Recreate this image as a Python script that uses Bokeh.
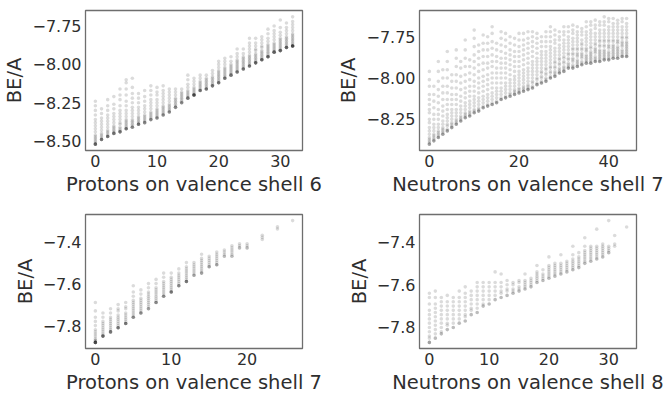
from bokeh.plotting import figure
from bokeh.layouts import gridplot
from bokeh.models import Range1d, FixedTicker, CustomJSTickFormatter, ColumnDataSource
from bokeh.embed import file_html
from bokeh.resources import INLINE

# ---------------- data ----------------
# Panel 1: protons on valence shell 6
p6_x = list(range(0, 33))
p6_y = [
    [-8.24, -8.27, -8.30, -8.33, -8.36, -8.38, -8.40, -8.42, -8.44, -8.46, -8.47, -8.48, -8.49, -8.50, -8.51, -8.52, -8.52],
    [-8.29, -8.32, -8.35, -8.37, -8.39, -8.41, -8.43, -8.45, -8.46, -8.47, -8.48, -8.49, -8.49],
    [-8.23, -8.27, -8.30, -8.33, -8.35, -8.37, -8.39, -8.41, -8.43, -8.44, -8.45, -8.46, -8.47, -8.47],
    [-8.21, -8.26, -8.29, -8.32, -8.34, -8.36, -8.38, -8.40, -8.41, -8.42, -8.43, -8.44, -8.45, -8.45],
    [-8.16, -8.20, -8.23, -8.27, -8.30, -8.32, -8.34, -8.36, -8.38, -8.39, -8.41, -8.42, -8.43, -8.44, -8.44],
    [-8.10, -8.12, -8.16, -8.20, -8.24, -8.27, -8.30, -8.32, -8.34, -8.36, -8.37, -8.38, -8.39, -8.40, -8.41, -8.42, -8.42],
    [-8.09, -8.15, -8.19, -8.22, -8.25, -8.28, -8.30, -8.32, -8.34, -8.36, -8.37, -8.38, -8.39, -8.40, -8.41],
    [-8.19, -8.22, -8.25, -8.28, -8.30, -8.32, -8.34, -8.35, -8.36, -8.37, -8.38, -8.39, -8.39],
    [-8.17, -8.21, -8.24, -8.27, -8.29, -8.31, -8.33, -8.34, -8.35, -8.36, -8.37, -8.38],
    [-8.14, -8.17, -8.20, -8.23, -8.25, -8.27, -8.29, -8.31, -8.32, -8.33, -8.34, -8.35, -8.36],
    [-8.15, -8.18, -8.20, -8.23, -8.25, -8.27, -8.29, -8.30, -8.31, -8.32, -8.33, -8.34, -8.35],
    [-8.14, -8.17, -8.19, -8.21, -8.23, -8.25, -8.27, -8.28, -8.29, -8.30, -8.31, -8.32, -8.33],
    [-8.16, -8.18, -8.20, -8.22, -8.24, -8.26, -8.27, -8.28, -8.29, -8.30, -8.31],
    [-8.16, -8.18, -8.20, -8.22, -8.23, -8.24, -8.25, -8.26, -8.27, -8.28],
    [-8.16, -8.18, -8.19, -8.20, -8.21, -8.22, -8.23, -8.24, -8.25],
    [-8.07, -8.10, -8.13, -8.15, -8.17, -8.18, -8.19, -8.20, -8.21, -8.22],
    [-8.09, -8.11, -8.13, -8.15, -8.16, -8.17, -8.18, -8.19, -8.20, -8.20],
    [-8.07, -8.09, -8.11, -8.12, -8.13, -8.14, -8.15, -8.16, -8.17],
    [-8.07, -8.09, -8.10, -8.11, -8.12, -8.13, -8.14, -8.15, -8.16],
    [-8.04, -8.06, -8.08, -8.09, -8.10, -8.11, -8.12, -8.13, -8.14],
    [-7.98, -8.00, -8.02, -8.04, -8.05, -8.06, -8.07, -8.08, -8.09, -8.10, -8.11, -8.12],
    [-7.96, -7.98, -8.00, -8.02, -8.03, -8.04, -8.05, -8.06, -8.07, -8.08, -8.09],
    [-7.95, -7.98, -8.00, -8.01, -8.02, -8.03, -8.04, -8.05, -8.06, -8.07],
    [-7.90, -7.93, -7.95, -7.97, -7.98, -7.99, -8.00, -8.01, -8.02, -8.03, -8.04, -8.05],
    [-7.90, -7.93, -7.95, -7.96, -7.97, -7.98, -7.99, -8.00, -8.01, -8.02, -8.03],
    [-7.83, -7.86, -7.88, -7.90, -7.92, -7.94, -7.95, -7.96, -7.97, -7.98, -7.99, -8.00, -8.01],
    [-7.83, -7.86, -7.88, -7.90, -7.91, -7.93, -7.94, -7.95, -7.96, -7.97, -7.98, -7.99],
    [-7.82, -7.84, -7.86, -7.88, -7.89, -7.91, -7.92, -7.93, -7.94, -7.95, -7.96, -7.97],
    [-7.77, -7.80, -7.83, -7.85, -7.87, -7.88, -7.89, -7.90, -7.91, -7.92, -7.93, -7.94, -7.95],
    [-7.75, -7.78, -7.80, -7.82, -7.84, -7.86, -7.87, -7.88, -7.89, -7.90, -7.91, -7.92],
    [-7.71, -7.76, -7.79, -7.81, -7.83, -7.84, -7.85, -7.86, -7.87, -7.88, -7.89, -7.90, -7.91],
    [-7.73, -7.76, -7.78, -7.80, -7.82, -7.83, -7.84, -7.85, -7.86, -7.87, -7.88, -7.89],
    [-7.69, -7.72, -7.74, -7.76, -7.78, -7.80, -7.81, -7.82, -7.83, -7.84, -7.85, -7.86, -7.87, -7.88, -7.88],
]
# extra nuclei stacked on the lowest value of each column (darker dots)
p6_stack = [4, 3, 3, 3, 3, 3, 3, 3, 3, 3, 3, 3, 3, 3, 3, 4, 6, 4, 4, 4, 4, 4, 4, 4, 4, 4, 5, 5, 5, 5, 5, 5, 6]

# Panel 2: neutrons on valence shell 7
n7_x = list(range(0, 45))
n7_y = [
    [-7.96, -8.01, -8.05, -8.10, -8.13, -8.16, -8.19, -8.21, -8.25, -8.27, -8.30, -8.32, -8.34, -8.36, -8.37, -8.38, -8.39, -8.40],
    [-8.05, -8.10, -8.14, -8.18, -8.22, -8.25, -8.28, -8.30, -8.32, -8.34, -8.35, -8.36, -8.37, -8.38],
    [-7.90, -7.96, -8.02, -8.07, -8.11, -8.15, -8.19, -8.22, -8.25, -8.28, -8.30, -8.32, -8.33, -8.34, -8.35, -8.36],
    [-7.95, -8.00, -8.05, -8.09, -8.13, -8.17, -8.20, -8.23, -8.26, -8.28, -8.30, -8.31, -8.32, -8.33, -8.34],
    [-7.84, -7.90, -7.95, -8.00, -8.05, -8.09, -8.13, -8.16, -8.19, -8.22, -8.24, -8.26, -8.28, -8.29, -8.31, -8.32],
    [-7.98, -8.02, -8.06, -8.10, -8.13, -8.16, -8.19, -8.21, -8.23, -8.25, -8.27, -8.28, -8.29, -8.30],
    [-7.83, -7.88, -7.93, -7.98, -8.02, -8.06, -8.10, -8.13, -8.16, -8.19, -8.21, -8.23, -8.25, -8.26, -8.27, -8.28],
    [-7.90, -7.94, -7.99, -8.03, -8.07, -8.11, -8.14, -8.17, -8.19, -8.21, -8.23, -8.24, -8.25, -8.26],
    [-7.77, -7.83, -7.88, -7.93, -7.98, -8.02, -8.06, -8.09, -8.12, -8.15, -8.17, -8.19, -8.21, -8.22, -8.23, -8.24],
    [-7.89, -7.93, -7.97, -8.01, -8.05, -8.08, -8.11, -8.14, -8.16, -8.18, -8.20, -8.21, -8.22, -8.23],
    [-7.71, -7.76, -7.81, -7.86, -7.90, -7.94, -7.98, -8.02, -8.05, -8.08, -8.11, -8.13, -8.15, -8.17, -8.19, -8.20, -8.21],
    [-7.80, -7.84, -7.88, -7.92, -7.96, -8.00, -8.03, -8.06, -8.09, -8.12, -8.14, -8.16, -8.18, -8.19, -8.20],
    [-7.74, -7.79, -7.83, -7.87, -7.91, -7.95, -7.99, -8.02, -8.05, -8.08, -8.11, -8.13, -8.15, -8.17, -8.18],
    [-7.75, -7.79, -7.83, -7.87, -7.91, -7.94, -7.98, -8.01, -8.04, -8.07, -8.10, -8.12, -8.14, -8.16, -8.17],
    [-7.69, -7.73, -7.78, -7.82, -7.86, -7.90, -7.93, -7.97, -8.00, -8.03, -8.06, -8.09, -8.11, -8.13, -8.15, -8.16],
    [-7.79, -7.83, -7.87, -7.90, -7.94, -7.97, -8.00, -8.03, -8.06, -8.08, -8.10, -8.12, -8.14, -8.15],
    [-7.72, -7.76, -7.80, -7.84, -7.88, -7.91, -7.94, -7.97, -8.00, -8.03, -8.06, -8.08, -8.10, -8.12, -8.13],
    [-7.73, -7.77, -7.81, -7.85, -7.88, -7.91, -7.94, -7.97, -8.00, -8.03, -8.05, -8.07, -8.09, -8.11, -8.12],
    [-7.75, -7.79, -7.83, -7.86, -7.89, -7.92, -7.95, -7.98, -8.01, -8.03, -8.05, -8.07, -8.09, -8.10, -8.11],
    [-7.76, -7.80, -7.84, -7.87, -7.90, -7.93, -7.96, -7.99, -8.01, -8.03, -8.05, -8.07, -8.08, -8.09, -8.10],
    [-7.73, -7.77, -7.81, -7.84, -7.87, -7.90, -7.93, -7.96, -7.98, -8.00, -8.02, -8.04, -8.06, -8.07, -8.08, -8.09],
    [-7.73, -7.77, -7.80, -7.83, -7.86, -7.89, -7.92, -7.95, -7.97, -7.99, -8.01, -8.03, -8.05, -8.06, -8.07, -8.08],
    [-7.72, -7.76, -7.79, -7.82, -7.85, -7.88, -7.91, -7.94, -7.96, -7.98, -8.00, -8.02, -8.04, -8.05, -8.06, -8.07],
    [-7.72, -7.75, -7.78, -7.81, -7.84, -7.87, -7.90, -7.92, -7.94, -7.96, -7.98, -8.00, -8.02, -8.03, -8.05, -8.06],
    [-7.73, -7.76, -7.79, -7.82, -7.85, -7.88, -7.90, -7.92, -7.94, -7.96, -7.98, -8.00, -8.01, -8.03, -8.04],
    [-7.75, -7.78, -7.81, -7.84, -7.86, -7.88, -7.90, -7.92, -7.94, -7.96, -7.97, -7.99, -8.00, -8.02, -8.03],
    [-7.72, -7.75, -7.78, -7.81, -7.84, -7.86, -7.88, -7.90, -7.92, -7.94, -7.95, -7.97, -7.98, -8.00, -8.01, -8.02],
    [-7.69, -7.72, -7.75, -7.78, -7.81, -7.83, -7.85, -7.87, -7.89, -7.91, -7.93, -7.94, -7.96, -7.97, -7.99, -8.00],
    [-7.71, -7.74, -7.77, -7.79, -7.82, -7.84, -7.86, -7.88, -7.90, -7.91, -7.93, -7.94, -7.96, -7.97, -7.98, -7.99],
    [-7.72, -7.75, -7.77, -7.80, -7.82, -7.84, -7.86, -7.88, -7.89, -7.91, -7.92, -7.94, -7.95, -7.96, -7.97],
    [-7.69, -7.72, -7.74, -7.77, -7.79, -7.81, -7.83, -7.85, -7.87, -7.88, -7.90, -7.91, -7.93, -7.94, -7.95, -7.96],
    [-7.69, -7.72, -7.75, -7.77, -7.79, -7.81, -7.83, -7.85, -7.86, -7.88, -7.89, -7.91, -7.92, -7.93, -7.94],
    [-7.68, -7.71, -7.73, -7.76, -7.78, -7.80, -7.82, -7.83, -7.85, -7.86, -7.88, -7.89, -7.90, -7.92, -7.93, -7.94],
    [-7.69, -7.72, -7.74, -7.76, -7.78, -7.80, -7.82, -7.83, -7.85, -7.86, -7.87, -7.89, -7.90, -7.91, -7.92, -7.93],
    [-7.70, -7.72, -7.74, -7.77, -7.79, -7.80, -7.82, -7.83, -7.85, -7.86, -7.87, -7.88, -7.90, -7.91, -7.92],
    [-7.66, -7.69, -7.72, -7.74, -7.76, -7.78, -7.80, -7.82, -7.83, -7.84, -7.86, -7.87, -7.88, -7.89, -7.90, -7.91],
    [-7.66, -7.68, -7.71, -7.73, -7.75, -7.77, -7.79, -7.81, -7.82, -7.84, -7.85, -7.86, -7.87, -7.88, -7.89, -7.90, -7.91],
    [-7.65, -7.68, -7.70, -7.73, -7.75, -7.77, -7.79, -7.80, -7.82, -7.83, -7.84, -7.85, -7.87, -7.88, -7.89, -7.90],
    [-7.66, -7.68, -7.71, -7.73, -7.75, -7.77, -7.78, -7.80, -7.81, -7.83, -7.84, -7.85, -7.86, -7.87, -7.88, -7.89, -7.90],
    [-7.63, -7.66, -7.68, -7.71, -7.73, -7.75, -7.77, -7.78, -7.80, -7.81, -7.83, -7.84, -7.85, -7.86, -7.87, -7.88, -7.89],
    [-7.64, -7.66, -7.69, -7.71, -7.73, -7.75, -7.77, -7.78, -7.80, -7.81, -7.82, -7.84, -7.85, -7.86, -7.87, -7.88, -7.89],
    [-7.64, -7.67, -7.69, -7.71, -7.73, -7.75, -7.77, -7.78, -7.80, -7.81, -7.82, -7.83, -7.84, -7.85, -7.86, -7.87, -7.88],
    [-7.65, -7.67, -7.69, -7.71, -7.73, -7.75, -7.77, -7.78, -7.79, -7.81, -7.82, -7.83, -7.84, -7.85, -7.86, -7.87, -7.88],
    [-7.64, -7.66, -7.69, -7.71, -7.73, -7.75, -7.76, -7.78, -7.79, -7.80, -7.81, -7.83, -7.84, -7.85, -7.86, -7.87],
    [-7.64, -7.67, -7.69, -7.71, -7.73, -7.75, -7.76, -7.78, -7.79, -7.80, -7.81, -7.82, -7.83, -7.84, -7.85, -7.86, -7.87],
]
n7_stack = [2] * 45

# Panel 3: protons on valence shell 7
p7_x = list(range(0, 21)) + [22, 24, 26]
p7_y = [
    [-7.69, -7.73, -7.76, -7.78, -7.80, -7.82, -7.83, -7.84, -7.85, -7.86, -7.87, -7.87, -7.88, -7.88, -7.88],
    [-7.74, -7.76, -7.78, -7.79, -7.80, -7.81, -7.82, -7.83, -7.84, -7.85, -7.85, -7.85],
    [-7.72, -7.74, -7.76, -7.77, -7.78, -7.79, -7.80, -7.81, -7.82, -7.83, -7.83],
    [-7.70, -7.72, -7.73, -7.75, -7.76, -7.77, -7.78, -7.79, -7.80, -7.81, -7.81],
    [-7.69, -7.71, -7.72, -7.74, -7.75, -7.76, -7.77, -7.78, -7.79, -7.79],
    [-7.61, -7.64, -7.66, -7.68, -7.69, -7.70, -7.71, -7.72, -7.73, -7.74, -7.75, -7.76, -7.76],
    [-7.63, -7.65, -7.67, -7.68, -7.69, -7.70, -7.71, -7.72, -7.73, -7.74, -7.74],
    [-7.60, -7.62, -7.64, -7.65, -7.66, -7.67, -7.68, -7.69, -7.70, -7.71, -7.72],
    [-7.58, -7.60, -7.62, -7.63, -7.64, -7.65, -7.66, -7.67, -7.68, -7.69, -7.69],
    [-7.55, -7.57, -7.59, -7.60, -7.61, -7.62, -7.63, -7.64, -7.65, -7.66, -7.66],
    [-7.55, -7.57, -7.58, -7.59, -7.60, -7.61, -7.62, -7.63, -7.64, -7.64],
    [-7.53, -7.55, -7.56, -7.57, -7.58, -7.59, -7.60, -7.61, -7.61],
    [-7.50, -7.52, -7.53, -7.54, -7.55, -7.56, -7.57, -7.58, -7.59, -7.59],
    [-7.50, -7.51, -7.52, -7.53, -7.54, -7.55, -7.56],
    [-7.46, -7.48, -7.49, -7.50, -7.51, -7.52, -7.53, -7.54, -7.55],
    [-7.47, -7.48, -7.49, -7.50, -7.51, -7.52],
    [-7.45, -7.46, -7.47, -7.48, -7.49, -7.50, -7.51],
    [-7.44, -7.45, -7.46, -7.47],
    [-7.42, -7.43, -7.44, -7.45, -7.46, -7.47],
    [-7.41, -7.42, -7.43],
    [-7.41, -7.42, -7.43],
    [-7.37, -7.38, -7.39],
    [-7.33, -7.34],
    [-7.30],
]
p7_stack = [5, 3, 3, 3, 3, 2, 2, 2, 2, 2, 3, 2, 3, 2, 2, 2, 2, 1, 1, 1, 1, 0, 0, 0]

# Panel 4: neutrons on valence shell 8
n8_x = list(range(0, 32)) + [33]
n8_y = [
    [-7.64, -7.66, -7.69, -7.72, -7.74, -7.76, -7.78, -7.80, -7.82, -7.84, -7.85, -7.87],
    [-7.63, -7.66, -7.69, -7.71, -7.73, -7.75, -7.77, -7.79, -7.81, -7.83, -7.85],
    [-7.66, -7.68, -7.70, -7.72, -7.74, -7.76, -7.78, -7.80, -7.82, -7.83],
    [-7.65, -7.68, -7.70, -7.72, -7.74, -7.76, -7.78, -7.79, -7.81],
    [-7.66, -7.68, -7.70, -7.72, -7.74, -7.76, -7.78, -7.80],
    [-7.63, -7.66, -7.68, -7.70, -7.72, -7.74, -7.76, -7.78],
    [-7.61, -7.64, -7.66, -7.68, -7.70, -7.72, -7.74, -7.75, -7.77],
    [-7.63, -7.65, -7.67, -7.69, -7.71, -7.72, -7.74],
    [-7.59, -7.61, -7.63, -7.65, -7.67, -7.69, -7.71, -7.73],
    [-7.59, -7.61, -7.63, -7.65, -7.67, -7.69, -7.70],
    [-7.59, -7.61, -7.63, -7.65, -7.67, -7.69],
    [-7.54, -7.59, -7.61, -7.63, -7.65, -7.67],
    [-7.55, -7.59, -7.61, -7.63, -7.64, -7.66],
    [-7.58, -7.60, -7.62, -7.63, -7.65],
    [-7.59, -7.60, -7.62, -7.63, -7.64],
    [-7.58, -7.59, -7.61, -7.62, -7.63],
    [-7.55, -7.58, -7.59, -7.60, -7.61, -7.62],
    [-7.57, -7.58, -7.59, -7.60, -7.61],
    [-7.51, -7.54, -7.55, -7.56, -7.57, -7.58, -7.59],
    [-7.53, -7.55, -7.56, -7.57, -7.58],
    [-7.47, -7.51, -7.52, -7.53, -7.54, -7.55, -7.56, -7.57],
    [-7.50, -7.51, -7.52, -7.53, -7.54, -7.55, -7.56],
    [-7.46, -7.50, -7.51, -7.52, -7.53, -7.54, -7.55],
    [-7.49, -7.50, -7.51, -7.52, -7.53, -7.54],
    [-7.42, -7.46, -7.48, -7.49, -7.50, -7.51, -7.52, -7.53],
    [-7.45, -7.47, -7.48, -7.49, -7.50, -7.51, -7.52],
    [-7.38, -7.42, -7.44, -7.45, -7.46, -7.47, -7.48, -7.49, -7.50],
    [-7.42, -7.43, -7.44, -7.45, -7.46, -7.47, -7.48, -7.49],
    [-7.34, -7.42, -7.43, -7.44, -7.45, -7.46, -7.47, -7.48],
    [-7.41, -7.42, -7.43, -7.44, -7.45, -7.46, -7.47],
    [-7.30, -7.42, -7.43, -7.44, -7.45],
    [-7.37, -7.41, -7.42],
    [-7.33],
]
n8_stack = [2, 1, 1, 1, 1, 1, 1, 1, 1, 1, 1, 1, 1, 1, 1, 1, 1, 1, 1, 1, 1, 1, 1, 1, 1, 1, 1, 1, 1, 1, 1, 0, 0]

x_labels = ["Protons on valence shell 6", "Neutrons on valence shell 7",
            "Protons on valence shell 7", "Neutrons on valence shell 8"]
y_label = "BE/A"
x_ticks = [[0, 10, 20, 30], [0, 20, 40], [0, 10, 20], [0, 10, 20, 30]]
y_ticks = [[-8.5, -8.25, -8.0, -7.75], [-8.25, -8.0, -7.75], [-7.8, -7.6, -7.4], [-7.8, -7.6, -7.4]]
y_digits = [2, 2, 1, 1]

TEXT = "#2e2e2e"
FONT = "DejaVu Sans"


def flatten(xs, ys, stack):
    fx, fy = [], []
    for x, col, n in zip(xs, ys, stack):
        for v in col:
            fx.append(x)
            fy.append(v)
        low = min(col)
        for _ in range(n):
            fx.append(x)
            fy.append(low)
    return fx, fy


def fmt(d):
    return CustomJSTickFormatter(code=f"""
        const s = Math.abs(tick).toFixed({d});
        return (tick < 0 ? "\\u2212" : "") + s;
    """)


def panel(xs, ys, stack, k, w, h, bl, br, bt, bb):
    fx, fy = flatten(xs, ys, stack)
    x0, x1 = min(fx), max(fx)
    y0, y1 = min(fy), max(fy)
    px = 0.05 * (x1 - x0)
    py = 0.05 * (y1 - y0)
    p = figure(width=w, height=h, output_backend="svg", toolbar_location=None,
               x_range=Range1d(x0 - px, x1 + px), y_range=Range1d(y0 - py, y1 + py),
               min_border_left=bl, min_border_right=br, min_border_top=bt, min_border_bottom=bb)
    src = ColumnDataSource(dict(x=fx, y=fy))
    p.scatter("x", "y", source=src, size=3.6, marker="circle",
              fill_color="black", fill_alpha=0.14, line_color=None)
    p.xgrid.visible = False
    p.ygrid.visible = False
    p.outline_line_color = "#6e6e6e"
    p.outline_line_width = 1.3
    p.background_fill_color = "white"
    p.border_fill_color = "white"
    for ax in (p.xaxis[0], p.yaxis[0]):
        ax.axis_line_color = None
        ax.major_tick_out = 0
        ax.major_tick_in = 0
        ax.minor_tick_out = 0
        ax.minor_tick_in = 0
        ax.major_label_text_font = FONT
        ax.major_label_text_font_size = "16px"
        ax.major_label_text_color = TEXT
        ax.axis_label_text_font = FONT
        ax.axis_label_text_font_size = "19.5px"
        ax.axis_label_text_font_style = "normal"
        ax.axis_label_text_color = TEXT
        ax.major_label_standoff = 4
        ax.axis_label_standoff = 3
    p.xaxis.ticker = FixedTicker(ticks=x_ticks[k])
    p.yaxis.ticker = FixedTicker(ticks=y_ticks[k])
    p.xaxis.formatter = fmt(0)
    p.yaxis.formatter = fmt(y_digits[k])
    p.xaxis.axis_label = x_labels[k]
    p.yaxis.axis_label = y_label
    return p


p1 = panel(p6_x, p6_y, p6_stack, 0, 332, 198, 84, 30, 9, 47)
p2 = panel(n7_x, n7_y, n7_stack, 1, 333, 198, 87, 29, 10, 47)
p3 = panel(p7_x, p7_y, p7_stack, 2, 332, 198, 84, 30, 16, 41)
p4 = panel(n8_x, n8_y, n8_stack, 3, 333, 198, 86, 29, 16, 41)

grid = gridplot([[p1, p2], [p3, p4]], toolbar_location=None)

open("out.html", "w").write(file_html(grid, INLINE))
